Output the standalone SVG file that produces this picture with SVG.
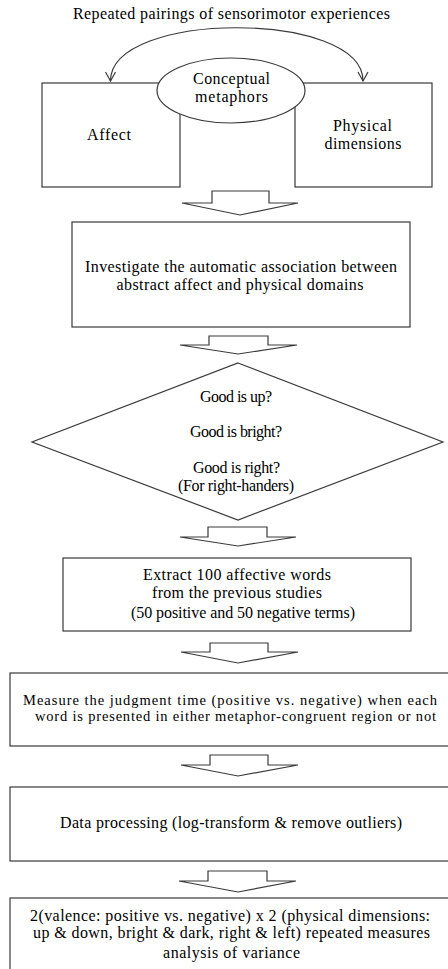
<svg xmlns="http://www.w3.org/2000/svg" width="448" height="969" viewBox="0 0 448 969">
<defs>
<style>
.box{fill:#fff;stroke:#3a3a3a;stroke-width:1.2}
.blk{fill:#fff;stroke:#3a3a3a;stroke-width:1.2;stroke-linejoin:miter}
.t{font-family:"Liberation Serif","Times New Roman",Times,"DejaVu Serif",serif;font-size:16px;fill:#000;text-anchor:middle}
.s{font-size:14.5px}
.con{fill:none;stroke:#3a3a3a;stroke-width:1.2}
</style>
<marker id="vh" viewBox="0 0 12 12" refX="10" refY="6" markerWidth="12" markerHeight="12" markerUnits="userSpaceOnUse" orient="auto-start-reverse">
<polyline points="1,1 10,6 1,11" fill="none" stroke="#3a3a3a" stroke-width="1.2"/>
</marker>
</defs>
<rect width="448" height="969" fill="#fff"/>

<text class="t" x="231.5" y="19" textLength="317" lengthAdjust="spacing">Repeated pairings of sensorimotor experiences</text>

<g id="affect">
<rect class="box" x="42" y="83" width="138" height="104"/>
<text class="t" x="109" y="140" textLength="44" lengthAdjust="spacing">Affect</text>
</g>
<g id="physical">
<rect class="box" x="295" y="83" width="137" height="104"/>
<text class="t" x="362.5" y="131" textLength="59" lengthAdjust="spacing">Physical</text>
<text class="t" x="363" y="149" textLength="77" lengthAdjust="spacing">dimensions</text>
</g>
<g id="metaphors">
<ellipse class="box" cx="231" cy="90.5" rx="74" ry="32.5"/>
<text class="t" x="231.5" y="84" textLength="77" lengthAdjust="spacing">Conceptual</text>
<text class="t" x="231.5" y="102" textLength="73" lengthAdjust="spacing">metaphors</text>
</g>

<g id="connectors">
<path class="con" d="M110.5,81 C110.5,10 363,10 363,81" marker-start="url(#vh)" marker-end="url(#vh)"/>
<polygon class="blk" points="212,191 269,191 269,203 298,203 240,215 182,203 212,203"/>
<polygon class="blk" points="209,336 268,336 268,345 297,345 238,354 180,345 209,345"/>
<polygon class="blk" points="208,527 267,527 267,537 296,537 238,546 180,537 208,537"/>
<polygon class="blk" points="210,643 268,643 268,652 298,652 238,663 181,652 210,652"/>
<polygon class="blk" points="210,755 268,755 268,765 298,765 238,776 181,765 210,765"/>
<polygon class="blk" points="208,871 267,871 267,881 296,881 238,892 179,881 208,881"/>
</g>

<g id="investigate">
<rect class="box" x="72" y="222" width="338" height="105"/>
<text class="t" x="241" y="272" textLength="312" lengthAdjust="spacing">Investigate the automatic association between</text>
<text class="t" x="240" y="290" textLength="247" lengthAdjust="spacing">abstract affect and physical domains</text>
</g>

<g id="hypotheses">
<polygon class="box" points="238,363 443,442 238,520 32,442"/>
<text class="t" x="236" y="402" textLength="72" lengthAdjust="spacing">Good is up?</text>
<text class="t" x="236" y="437" textLength="92" lengthAdjust="spacing">Good is bright?</text>
<text class="t" x="236.5" y="473" textLength="87" lengthAdjust="spacing">Good is right?</text>
<text class="t" x="236" y="491" textLength="116" lengthAdjust="spacing">(For right-handers)</text>
</g>

<g id="extract">
<rect class="box" x="63" y="558" width="348" height="73"/>
<text class="t" x="237" y="580" textLength="188" lengthAdjust="spacing">Extract 100 affective words</text>
<text class="t" x="237" y="598" textLength="170" lengthAdjust="spacing">from the previous studies</text>
<text class="t" x="243" y="618" textLength="224" lengthAdjust="spacing">(50 positive and 50 negative terms)</text>
</g>

<g id="measure">
<rect class="box" x="10" y="673" width="445" height="73"/>
<text class="t s" x="230" y="705" textLength="414" lengthAdjust="spacing">Measure the judgment time (positive vs. negative) when each</text>
<text class="t s" x="235.5" y="721" textLength="401" lengthAdjust="spacing">word is presented in either metaphor-congruent region or not</text>
</g>

<g id="processing">
<rect class="box" x="10" y="787" width="445" height="74"/>
<text class="t" x="231" y="828" textLength="342" lengthAdjust="spacing">Data processing (log-transform &amp; remove outliers)</text>
</g>

<g id="anova">
<rect class="box" x="10" y="898" width="445" height="80"/>
<text class="t" x="230" y="921" textLength="400" lengthAdjust="spacing">2(valence: positive vs. negative) x 2 (physical dimensions:</text>
<text class="t" x="231.5" y="938" textLength="397" lengthAdjust="spacing">up &amp; down, bright &amp; dark, right &amp; left) repeated measures</text>
<text class="t" x="231.5" y="958" textLength="137" lengthAdjust="spacing">analysis of variance</text>
</g>
</svg>
